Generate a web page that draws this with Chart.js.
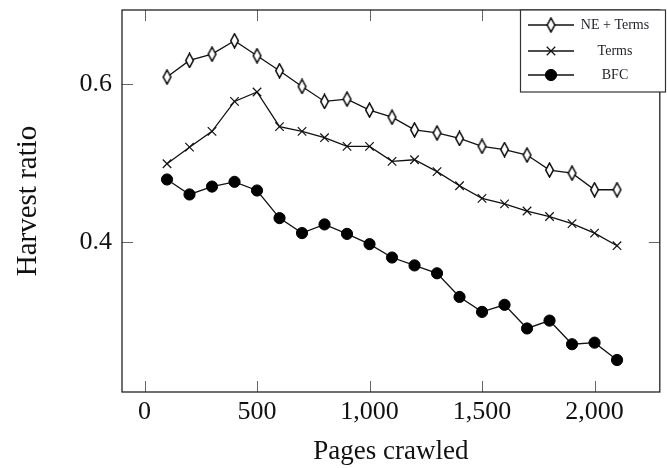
<!DOCTYPE html>
<html>
<head>
<meta charset="utf-8">
<script src="https://cdn.jsdelivr.net/npm/chart.js@4/dist/chart.umd.min.js"></script>
<style>
  body { margin: 0; background: #fff; }
</style>
</head>
<body>
<canvas id="harvest" width="667" height="468"></canvas>
<script>
// values
const pages = [100, 200, 300, 400, 500, 600, 700, 800, 900, 1000, 1100,
               1200, 1300, 1400, 1500, 1600, 1700, 1800, 1900, 2000, 2100];
const neTerms = [0.609, 0.630, 0.638, 0.655, 0.636, 0.617, 0.597, 0.578, 0.581, 0.567, 0.558,
                 0.542, 0.538, 0.531, 0.521, 0.517, 0.510, 0.491, 0.487, 0.466, 0.466];
const terms = [0.499, 0.520, 0.540, 0.578, 0.590, 0.546, 0.540, 0.532, 0.521, 0.521, 0.502,
               0.504, 0.489, 0.471, 0.455, 0.448, 0.439, 0.432, 0.423, 0.411, 0.395];
const bfc = [0.479, 0.460, 0.470, 0.476, 0.465, 0.430, 0.411, 0.422, 0.410, 0.397, 0.380,
             0.370, 0.360, 0.330, 0.311, 0.320, 0.290, 0.300, 0.270, 0.272, 0.250];

const xTicks = [0, 500, 1000, 1500, 2000];
const yTicks = [0.4, 0.6];

const serif = "'Liberation Serif', 'DejaVu Serif', serif";

// tall open diamond marker
const diamond = document.createElement("canvas");
diamond.width = 11;
diamond.height = 16;
(function () {
  const c = diamond.getContext("2d");
  c.beginPath();
  c.moveTo(5.5, 1);
  c.lineTo(9.3, 8);
  c.lineTo(5.5, 15);
  c.lineTo(1.7, 8);
  c.closePath();
  c.fillStyle = "#fff";
  c.fill();
  c.lineWidth = 1.5;
  c.strokeStyle = "#000";
  c.stroke();
})();

function points(ys) {
  return pages.map((p, i) => ({ x: p, y: ys[i] }));
}

// axis box, inward ticks on all sides, and the boxed legend
const frame = {
  id: "frame",
  beforeDatasetsDraw(chart) {
    const { ctx, chartArea: a, scales } = chart;
    ctx.save();
    ctx.strokeStyle = "#666";
    ctx.lineWidth = 1;
    const tl = 11;
    xTicks.forEach(v => {
      const px = Math.round(scales.x.getPixelForValue(v)) + 0.5;
      ctx.beginPath();
      ctx.moveTo(px, a.bottom); ctx.lineTo(px, a.bottom - tl);
      ctx.moveTo(px, a.top); ctx.lineTo(px, a.top + tl);
      ctx.stroke();
    });
    yTicks.forEach(v => {
      const py = Math.round(scales.y.getPixelForValue(v)) + 0.5;
      ctx.beginPath();
      ctx.moveTo(a.left, py); ctx.lineTo(a.left + tl, py);
      ctx.moveTo(a.right, py); ctx.lineTo(a.right - tl, py);
      ctx.stroke();
    });
    ctx.strokeStyle = "#222";
    ctx.lineWidth = 1.3;
    ctx.strokeRect(a.left, a.top, a.right - a.left, a.bottom - a.top);
    ctx.restore();
  },
  afterDraw(chart) {
    const { ctx, chartArea: a } = chart;
    const bx = 520, by = a.top, bw = 145, bh = 82;
    ctx.save();
    ctx.fillStyle = "#fff";
    ctx.fillRect(bx, by, bw, bh);
    ctx.strokeStyle = "#333";
    ctx.lineWidth = 1.2;
    ctx.strokeRect(bx + 0.5, by, bw, bh);
    const rows = [15, 41, 65];
    chart.data.datasets.forEach((ds, i) => {
      const y = by + rows[i];
      ctx.strokeStyle = ds.borderColor;
      ctx.lineWidth = ds.borderWidth;
      ctx.beginPath();
      ctx.moveTo(bx + 8, y); ctx.lineTo(bx + 54, y);
      ctx.stroke();
      ctx.fillStyle = ds.pointBackgroundColor;
      ctx.strokeStyle = ds.pointBorderColor;
      ctx.lineWidth = ds.pointBorderWidth;
      Chart.helpers.drawPoint(ctx, {
        pointStyle: ds.pointStyle,
        radius: ds.pointRadius,
        borderWidth: ds.pointBorderWidth,
        rotation: 0
      }, bx + 31, y);
      ctx.fillStyle = "#1f1f2a";
      ctx.font = "14px " + serif;
      ctx.textAlign = "center";
      ctx.textBaseline = "middle";
      ctx.fillText(ds.label, bx + 95, y);
    });
    ctx.restore();
  }
};

const context = document.getElementById("harvest").getContext("2d");
const chart = new Chart(context, {
  type: "line",
  data: {
    datasets: [{
      label: "NE + Terms",
      data: points(neTerms),
      borderColor: "#111",
      borderWidth: 1.3,
      pointStyle: diamond,
      pointRadius: 6,
      pointBorderWidth: 1.2,
      pointBackgroundColor: "#fff",
      pointBorderColor: "#111"
    }, {
      label: "Terms",
      data: points(terms),
      borderColor: "#111",
      borderWidth: 1.3,
      pointStyle: "crossRot",
      pointRadius: 6,
      pointBorderWidth: 1.2,
      pointBackgroundColor: "#111",
      pointBorderColor: "#111"
    }, {
      label: "BFC",
      data: points(bfc),
      borderColor: "#111",
      borderWidth: 1.3,
      pointStyle: "circle",
      pointRadius: 5.6,
      pointBorderWidth: 1,
      pointBackgroundColor: "#000",
      pointBorderColor: "#000"
    }]
  },
  options: {
    responsive: false,
    animation: false,
    devicePixelRatio: 1,
    layout: { padding: { top: 10, right: 7, left: 0, bottom: 0 } },
    plugins: { legend: { display: false }, tooltip: { enabled: false } },
    scales: {
      x: {
        type: "linear",
        min: -100,
        max: 2290,
        afterBuildTicks: s => { s.ticks = xTicks.map(v => ({ value: v })); },
        afterFit: s => { s.height = 76; s.paddingLeft = 0; s.paddingRight = 0; },
        grid: { display: false, drawTicks: false },
        border: { display: false },
        ticks: {
          padding: 5,
          color: "#111",
          font: { family: serif, size: 26 },
          callback: v => v.toLocaleString("en-US")
        },
        title: {
          display: true,
          text: "Pages crawled",
          color: "#111",
          font: { family: serif, size: 27 },
          padding: { top: 0, bottom: 0 }
        }
      },
      y: {
        min: 0.2094,
        max: 0.694,
        afterBuildTicks: s => { s.ticks = yTicks.map(v => ({ value: v })); },
        afterFit: s => { s.width = 122; s.paddingTop = 0; s.paddingBottom = 0; },
        grid: { display: false, drawTicks: false },
        border: { display: false },
        ticks: {
          padding: 10,
          color: "#111",
          font: { family: serif, size: 26 },
          callback: v => v.toFixed(1)
        },
        title: {
          display: true,
          text: "Harvest ratio",
          color: "#111",
          font: { family: serif, size: 29 },
          padding: { top: 11, bottom: 0 }
        }
      }
    }
  },
  plugins: [frame]
});
</script>
</body>
</html>
